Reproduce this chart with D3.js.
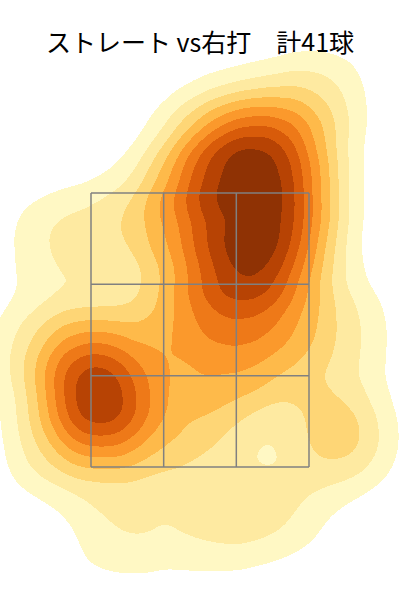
<!DOCTYPE html>
<html>
<head>
<meta charset="utf-8">
<script src="https://cdn.jsdelivr.net/npm/d3@7"></script>
<style>
  body { margin: 0; background: #fff; }
</style>
</head>
<body>
<script>
  // Pitch locations, cm: across the plate (catcher's view) and height
  const pitchX = [1, 8, 14.4, 19.6, -3.6, 4, 11.6, 20, -3, 5.6, 13.6, 20.6, 4, 11, 16.4, 9,
    -5, 1, 17, -4, 6, 14, -11, 2, 26,
    -21.6, -18.4, -25, -17, -22, -19.6,
    -15, -29, -33, -30, -16, 2, 16, 29.6, 29, 24];
  const pitchY = [115.4, 118, 116.8, 112.8, 107, 108.4, 109.4, 105, 98.4, 99.8, 101, 96.4, 91, 89.8, 92.2, 85.4,
    83.4, 79.4, 79.4, 69.4, 67.4, 71.4, 55.4, 55.4, 59.4,
    75.4, 71.8, 66.4, 63.8, 61, 57,
    98.4, 95.4, 73.4, 53.4, 37.4, 38.4, 41.4, 54.4, 77.4, 124.4];

  // Strike zone edges (cm), split 3x3
  const zoneXTicks = [-22, -7.33, 7.33, 22];
  const zoneYTicks = [50, 68.33, 86.67, 105];

  const title = "ストレート vs右打　計41球";

  const width = 400;
  const height = 600;
  const marginTop = 60;
  const plotH = height - marginTop;

  const svg = d3.select("body")
    .append("svg")
    .attr("width", width)
    .attr("height", height);

  svg.append("text")
    .attr("x", width / 2)
    .attr("y", 52)
    .attr("text-anchor", "middle")
    .style("font-family", "'Noto Sans CJK JP', sans-serif")
    .style("font-size", "25px")
    .attr("fill", "#000")
    .text(title);

  const g = svg.append("g").attr("transform", `translate(0,${marginTop})`);

  const x = d3.scaleLinear().domain([-22, 22]).range([91, 309]);
  const y = d3.scaleLinear().domain([50, 105]).range([407, 133]);

  const points = pitchX.map((d, i) => [x(d), y(pitchY[i])]);

  const density = d3.contourDensity()
    .x(d => d[0])
    .y(d => d[1])
    .size([width, plotH])
    .cellSize(2)
    .bandwidth(35)
    .contours(points);

  // 9 bands at tenths of the peak
  const levels = d3.range(1, 10).map(k => k * density.max / 10);
  const path = d3.geoPath();

  g.selectAll("path.band")
    .data(levels)
    .join("path")
    .attr("class", "band")
    .attr("d", t => path(density(t)))
    .attr("fill", (t, i) => d3.interpolateYlOrBr((i + 1) / 10))
    .attr("shape-rendering", "crispEdges");

  // Strike zone grid
  g.selectAll("line.v")
    .data(zoneXTicks)
    .join("line")
    .attr("class", "v")
    .attr("x1", d => x(d)).attr("x2", d => x(d))
    .attr("y1", y(zoneYTicks[0])).attr("y2", y(zoneYTicks[3]))
    .attr("stroke", "#808080")
    .attr("stroke-width", 1.5);

  g.selectAll("line.h")
    .data(zoneYTicks)
    .join("line")
    .attr("class", "h")
    .attr("y1", d => y(d)).attr("y2", d => y(d))
    .attr("x1", x(zoneXTicks[0])).attr("x2", x(zoneXTicks[3]))
    .attr("stroke", "#808080")
    .attr("stroke-width", 1.5);
</script>
</body>
</html>
